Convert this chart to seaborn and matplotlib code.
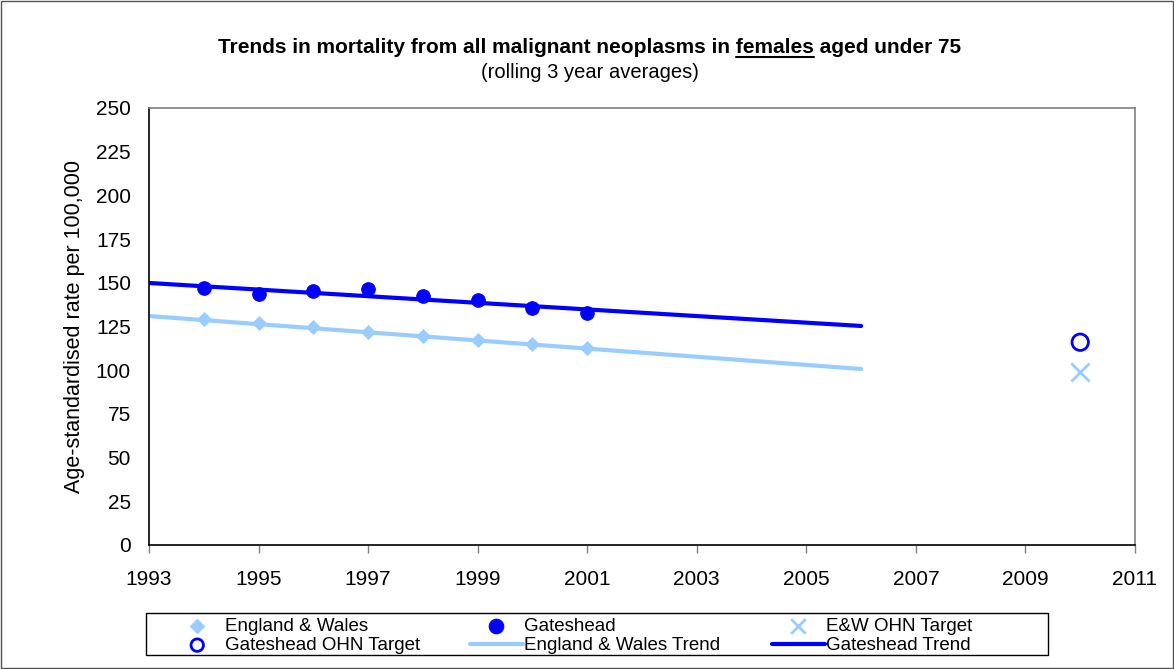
import matplotlib
matplotlib.use('Agg')
import matplotlib.pyplot as plt
import seaborn as sns
import pandas as pd
from matplotlib.patches import Rectangle

years = [1994, 1995, 1996, 1997, 1998, 1999, 2000, 2001]
ew_rate = [129.1, 127.2, 124.5, 122.0, 119.7, 117.3, 114.8, 112.5]
gh_rate = [147.2, 143.7, 145.1, 146.2, 142.6, 140.4, 135.4, 132.6]

trend_years = [1993, 2006]
ew_trend = [131.0, 100.7]
gh_trend = [149.9, 125.3]

target_year = [2010]
ew_target = [99.0]
gh_target = [116.0]

light = '#99CCFF'
dark = '#0000FF'

sns.set_theme(style='white')
plt.rcParams['font.family'] = ['Liberation Sans', 'DejaVu Sans']
for k in ['text.color', 'axes.labelcolor', 'xtick.color', 'ytick.color']:
    plt.rcParams[k] = 'black'

W, H = 1174, 669
df = pd.DataFrame({'year': years, 'ew': ew_rate, 'gh': gh_rate})
dft = pd.DataFrame({'year': trend_years, 'ew': ew_trend, 'gh': gh_trend})

fig = plt.figure(figsize=(W / 100, H / 100), dpi=100)
ax = fig.add_axes([149/W, 1 - 545/H, (1135-149)/W, (545-108)/H])

sns.lineplot(data=dft, x='year', y='ew', color=light, lw=3, ax=ax, label='England & Wales Trend')
sns.lineplot(data=dft, x='year', y='gh', color=dark, lw=3, ax=ax, label='Gateshead Trend')
sns.scatterplot(data=df, x='year', y='ew', marker='D', s=50, color=light, edgecolor=light, ax=ax, label='England & Wales', zorder=3)
sns.scatterplot(data=df, x='year', y='gh', marker='o', s=95, color=dark, edgecolor=dark, ax=ax, label='Gateshead', zorder=3)
sns.scatterplot(x=target_year, y=ew_target, marker='x', s=170, color=light, linewidth=2, ax=ax, label='E&W OHN Target', zorder=3)
sns.scatterplot(x=target_year, y=gh_target, marker='o', s=140, facecolor='none', edgecolor=dark, linewidth=2, ax=ax, label='Gateshead OHN Target', zorder=3)

ax.set_xlim(1993, 2011)
ax.set_ylim(0, 250)
ax.set_xticks(range(1993, 2012, 2))
ax.set_yticks(range(0, 251, 25))
ax.tick_params(axis='x', labelsize=15, length=6, width=1, color='#808080', direction='out', bottom=True, pad=12)
ax.tick_params(axis='y', labelsize=15, length=0, pad=13)
ax.set_xlabel('')
ax.set_ylabel('Age-standardised rate per 100,000', fontsize=15.5, labelpad=8)
for sp in ax.spines.values():
    sp.set_color('#808080')
    sp.set_linewidth(1.2)
ax.spines['left'].set_color('black')
ax.spines['bottom'].set_color('black')

h, l = ax.get_legend_handles_labels()
hd = dict(zip(l, h))
ax.get_legend().remove()
cols = [(171, ['England & Wales', 'Gateshead OHN Target']),
        (470, ['Gateshead', 'England & Wales Trend']),
        (772, ['E&W OHN Target', 'Gateshead Trend'])]
leg_sizes = {'England & Wales': 55, 'Gateshead OHN Target': 80, 'Gateshead': 110, 'E&W OHN Target': 110}
for x, names in cols:
    lg = fig.legend([hd[k] for k in names], names, loc='center left',
                    bbox_to_anchor=(x / W, 1 - 636 / H), frameon=False,
                    fontsize=13.5, borderpad=0, borderaxespad=0, labelspacing=0.1,
                    handlelength=2.8, handletextpad=0.1)
    for hh, nm in zip(lg.legend_handles, names):
        if nm in leg_sizes:
            hh.set_sizes([leg_sizes[nm]])
fig.add_artist(Rectangle((146/W, 1 - 655/H), (1048-146)/W, (655-613)/H, transform=fig.transFigure,
                         fill=False, edgecolor='black', lw=1))

# title, with "females" underlined
fig.canvas.draw()
r = fig.canvas.get_renderer()
pre = 'Trends in mortality from all malignant neoplasms in '
word = 'females'
post = ' aged under 75'
kw = dict(fontsize=15, fontweight='bold', va='baseline')
def width(s):
    t = fig.text(0, 0, s, **kw)
    w = t.get_window_extent(r).width
    t.remove()
    return w
tw = width(pre + word + post)
pw = width(pre)
ww = width(word)
x0 = 590 - tw / 2
yb = H - 53
fig.text(x0 / W, yb / H, pre + word + post, **kw)
fig.add_artist(plt.Line2D([(x0 + pw) / W, (x0 + pw + ww) / W],
                          [(yb - 4) / H, (yb - 4) / H], color='black', lw=1.5))
fig.text(590 / W, 1 - 73 / H, '(rolling 3 year averages)', ha='center', va='center', fontsize=14.5)

fig.add_artist(Rectangle((0.001, 0.001), 0.998, 0.998, transform=fig.transFigure,
                         fill=False, edgecolor='#555555', lw=1))

fig.savefig('out.png', dpi=100)
